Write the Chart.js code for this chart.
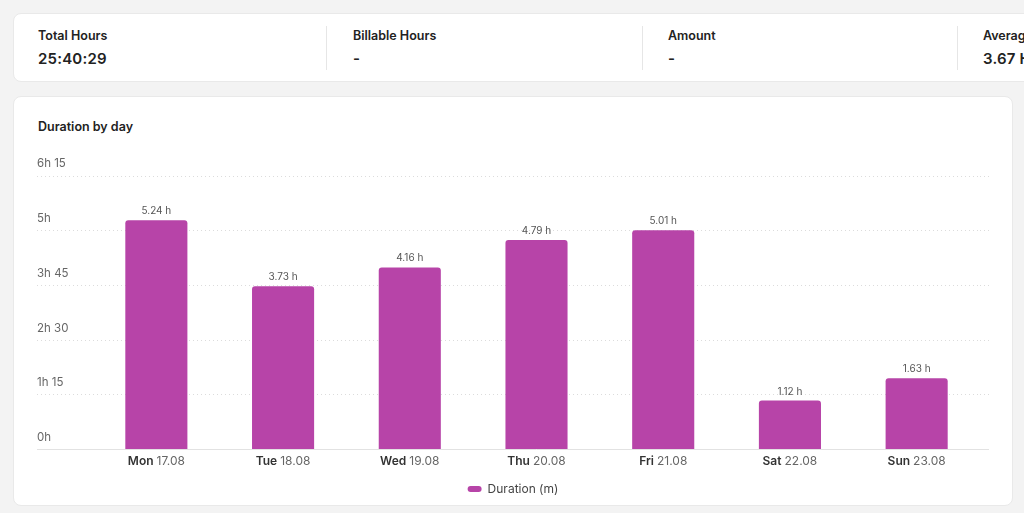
<!DOCTYPE html>
<html>
<head>
<meta charset="utf-8">
<script src="https://cdn.jsdelivr.net/npm/chart.js@4"></script>
<style>
  body { margin: 0; background: #f3f3f3; font-family: Inter, "Noto Sans", sans-serif; color: #222; width: 1024px; height: 513px; overflow: hidden; position: relative; }
  .summary { position: absolute; left: 13px; top: 13px; width: 1060px; height: 67px; background: #fff; border: 1px solid #e9e9e9; border-radius: 8px; }
  .stat { position: absolute; top: 0; height: 67px; }
  .stat .lbl { position: absolute; top: 14px; font-size: 12.5px; font-weight: 600; white-space: nowrap; }
  .stat .val { position: absolute; top: 35px; font-size: 15px; font-weight: 600; white-space: nowrap; letter-spacing: 0.2px; }
  .sep { position: absolute; top: 12px; width: 1px; height: 44px; background: #e6e6e6; }
  .card { position: absolute; left: 13px; top: 96px; width: 998px; height: 408px; background: #fff; border: 1px solid #e9e9e9; border-radius: 8px; }
  .title { position: absolute; left: 24px; top: 22px; font-size: 12.5px; font-weight: 600; }
  #wrap { position: absolute; left: 37px; top: 150px; width: 952px; height: 355px; }
</style>
</head>
<body>
<div class="summary">
  <div class="stat" style="left:24px"><div class="lbl">Total Hours</div><div class="val">25:40:29</div></div>
  <div class="sep" style="left:312px"></div>
  <div class="stat" style="left:339px"><div class="lbl">Billable Hours</div><div class="val">-</div></div>
  <div class="sep" style="left:628px"></div>
  <div class="stat" style="left:654px"><div class="lbl">Amount</div><div class="val">-</div></div>
  <div class="sep" style="left:943px"></div>
  <div class="stat" style="left:969px"><div class="lbl">Average Daily Hours</div><div class="val">3.67 Hours</div></div>
</div>
<div class="card">
  <div class="title">Duration by day</div>
</div>
<div id="wrap"><canvas id="myChart"></canvas></div>
<script>
  // days on the x axis
  const days = ["Mon", "Tue", "Wed", "Thu", "Fri", "Sat", "Sun"];
  const dates = ["17.08", "18.08", "19.08", "20.08", "21.08", "22.08", "23.08"];
  // hours per day
  const hours = [5.24, 3.73, 4.16, 4.79, 5.01, 1.12, 1.63];
  // y axis ticks, in hours
  const yMax = 6.25;
  const yStep = 1.25;

  const barColor = "#b744a8";
  const gridColor = "#dcdcdc";

  function hLabel(v) {
    let h = Math.floor(v);
    let m = Math.round((v - h) * 60);
    return m ? h + "h " + m : h + "h";
  }

  // value over each bar
  const barLabels = {
    id: "barLabels",
    afterDatasetsDraw(chart) {
      const ctx = chart.ctx;
      ctx.save();
      ctx.font = "10px Inter";
      ctx.fillStyle = "#555";
      ctx.textAlign = "center";
      ctx.textBaseline = "bottom";
      chart.getDatasetMeta(0).data.forEach((bar, i) => {
        ctx.fillText(hours[i].toFixed(2) + " h", bar.x, bar.y - 4);
      });
      ctx.restore();
    }
  };

  // day name bold, date regular
  const dayLabels = {
    id: "dayLabels",
    afterDraw(chart) {
      const ctx = chart.ctx;
      const x = chart.scales.x;
      const y = x.top + 12;
      ctx.save();
      ctx.textBaseline = "middle";
      ctx.textAlign = "left";
      days.forEach((d, i) => {
        const cx = x.getPixelForTick(i);
        ctx.font = "600 12px Inter";
        const w1 = ctx.measureText(d + " ").width;
        ctx.font = "12px Inter";
        const w2 = ctx.measureText(dates[i]).width;
        let sx = cx - (w1 + w2) / 2;
        ctx.font = "600 12px Inter";
        ctx.fillStyle = "#333";
        ctx.fillText(d + " ", sx, y);
        ctx.font = "12px Inter";
        ctx.fillStyle = "#666";
        ctx.fillText(dates[i], sx + w1, y);
      });
      ctx.restore();
    }
  };

  const gridOpts = {
    color: (c) => c.index === 0 ? "#e2e2e2" : gridColor,
    tickColor: (c) => c.index === 0 ? "#e2e2e2" : gridColor,
    tickBorderDash: (c) => c.index === 0 ? [] : [1, 3],
  };

  const config = {
    type: "bar",
    data: {
      labels: days.map((d, i) => d + " " + dates[i]),
      datasets: [
        {
          label: "Duration (m)",
          data: hours,
          backgroundColor: barColor,
          borderRadius: { topLeft: 3, topRight: 3 },
          borderSkipped: "bottom",
          categoryPercentage: 1,
          barPercentage: 0.49,
        },
      ],
    },
    options: {
      responsive: true,
      maintainAspectRatio: false,
      animation: false,
      layout: { padding: { top: 26, bottom: 0 } },
      plugins: {
        tooltip: { enabled: false },
        legend: {
          position: "bottom",
          labels: {
            color: "#444",
            font: { family: "Inter", size: 12 },
            boxWidth: 14,
            boxHeight: 6,
            useBorderRadius: true,
            borderRadius: 3,
            padding: 3,
          },
        },
      },
      scales: {
        x: {
          grid: { display: false },
          border: { display: false },
          ticks: { color: "transparent", font: { family: "Inter", size: 12 }, padding: 4 },
        },
        y: {
          min: 0,
          max: yMax,
          afterFit: (s) => { s.width = 56; },
          ticks: {
            stepSize: yStep,
            callback: (v) => hLabel(v),
            color: "#666",
            font: { family: "Inter", size: 11.5 },
            crossAlign: "far",
            labelOffset: -12,
          },
          grid: Object.assign({ tickLength: 56 }, gridOpts),
          border: { display: false, dash: (c) => c.index === 0 ? [] : [1, 3] },
        },
        y2: {
          position: "right",
          min: 0,
          max: yMax,
          ticks: { stepSize: yStep, display: false },
          grid: Object.assign({ tickLength: 9, drawOnChartArea: false }, gridOpts),
          border: { display: false },
        },
      },
    },
    plugins: [barLabels, dayLabels],
  };
  var myChart = new Chart(document.getElementById("myChart"), config);
</script>
</body>
</html>
